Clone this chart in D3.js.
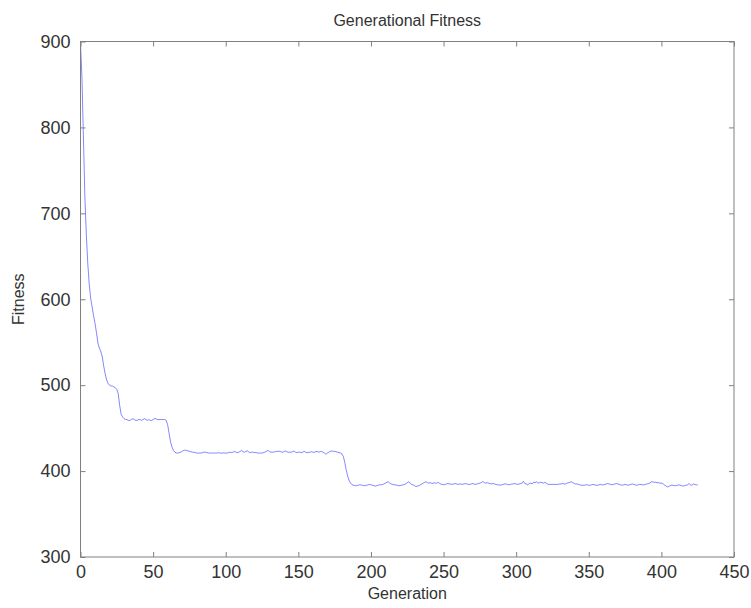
<!DOCTYPE html>
<html lang="en">
<head>
<title>Generational Fitness</title>
<meta charset="utf-8">

<script src="https://d3js.org/d3.v7.min.js"></script>

<style type="text/css">

body {
	margin: 0;
	background: #fff;
	font-family: "Liberation Sans", Arial, sans-serif;
}

.axis text {
	fill: #333;
}

</style>

</head>

<body>

<div id="vis"></div>

<script>

/* Data */
/* ==== */

// fitness per generation, generation = index
var fitnessStart = [898, 858, 790, 720, 676, 642, 618, 601, 591, 581, 572, 561, 549, 543, 539, 533,
	522, 513, 506, 502, 500, 499, 499, 498, 497, 495, 490, 476, 466, 463, 461, 460];

var fitnessPlateau1 = [460, 459, 459, 460, 461, 460, 459, 459, 460, 460, 459, 460, 461, 460,
	459, 460, 459, 459, 460, 461, 461, 460, 460, 460, 460, 460, 460, 459,
	454, 444, 434, 428, 424, 422];

var fitnessPlateau2 = [421, 421, 421.5, 422, 423, 424, 424.5,
	424, 423.5, 423, 422.5, 422, 422, 421.5, 421,
	421, 421, 421, 421.5, 422, 422, 421.5, 421, 421, 421, 421, 421, 421, 421, 421.5, 421, 421, 421, 421, 421,
	421, 421.5, 422, 421.5, 422, 423, 422, 421.5, 422, 423, 424, 422.5, 422, 423, 423.5, 422, 421.5, 422, 422, 421.5,
	421.5, 421, 421, 421, 421, 421.5, 422, 423, 424, 423, 422, 422, 422, 422.5, 423, 423, 423, 422.5, 422, 422.5,
	423.5, 422.5, 422, 422, 422, 422.5, 423.5, 422, 421.5, 422, 422, 421.5, 422, 423, 422, 421.5, 421.5, 422, 422.5, 422,
	422, 422.5, 423, 422, 422.5, 423, 422, 421, 419.5, 421, 422, 423, 423.5, 423, 423, 422.5, 422, 421.5, 421, 420,
	417, 410, 401, 394, 389, 386];

var fitnessPlateau3 = [384, 383.5, 383, 383, 383.5, 384, 384, 383.5, 383, 383, 383.5, 384, 384.5, 384, 383.5, 383, 382.5, 383, 383.5, 384,
	384, 384.5, 385, 386, 387, 387.5, 386, 385, 384.5, 384, 384, 383.5, 383, 383, 383.5, 384, 384.5, 385, 386.5, 387.5,
	386, 384.5, 384, 383, 382, 382.5, 383, 384, 385, 386, 387, 387.5, 386.5, 386, 386.5, 385.5, 386, 386.5, 385.5, 387,
	386, 385, 384.5, 384, 384.5, 385, 385.5, 385, 385, 384.5, 385, 385.5, 385, 384.5, 385, 385, 384.5, 385, 385.5, 385,
	384.5, 384.5, 385, 385.5, 385, 384.5, 385, 385.5, 386, 386.5, 388, 386.5, 386, 386.5, 386, 385.5, 385, 385.5, 385, 384.5,
	384, 384, 383.5, 384, 384.5, 385, 385, 384.5, 384, 384.5, 385, 385, 385.5, 385, 384.5, 385, 385.5, 386, 388, 385.5,
	385, 384, 385.5, 386, 385, 387, 386.5, 387.5, 386, 386.5, 387, 386.5, 386, 387, 385.5, 384.5, 384.5, 384.5, 384.5, 384.5,
	384.5, 384.5, 384.5, 385, 385, 385.5, 385, 385, 386, 386.5, 387, 387.5, 386.5, 385.5, 385, 385, 384.5, 384, 383.5, 383.5,
	383.5, 384, 384, 383.5, 383.5, 384, 384.5, 384, 383.5, 383.5, 384, 384.5, 384, 384, 384.5, 385, 385.5, 385, 384.5, 384,
	384.5, 385, 385.5, 385, 384.5, 384, 383.5, 384, 384.5, 384, 383.5, 384, 384.5, 385, 384.5, 384, 383.5, 384, 384.5, 384.5,
	384, 384, 384.5, 385, 385.5, 386, 387.5, 387.5, 387, 387, 386.5, 386.5, 386, 386, 385.5, 384, 383, 381.5, 382, 383,
	383.5, 383.5, 383, 383, 383.5, 384, 383.5, 383, 382.5, 383, 383.5, 384, 385.5, 384, 383.5, 385, 384.5, 384, 384];

var xTicks = [0, 50, 100, 150, 200, 250, 300, 350, 400, 450];
var yTicks = [300, 400, 500, 600, 700, 800, 900];

var fitness = fitnessStart.concat(fitnessPlateau1, fitnessPlateau2, fitnessPlateau3);


/* Globals and SVG */
/* =============== */

var margin = { top: 41.5, right: 17, bottom: 51, left: 80.5 },
		width = 751 - margin.left - margin.right,
		height = 608 - margin.top - margin.bottom;

var axisColor = '#808080',
		textColor = '#333';

var svg = d3.select('#vis')
	.append('svg')
		.attr('width', 751)
		.attr('height', 608)
	.append('g')
		.attr('transform', 'translate(' + margin.left + ', ' + margin.top + ')');

var x = d3.scaleLinear().domain([0, 450]).range([0, width]);
var y = d3.scaleLinear().domain([300, 900]).range([height, 0]);


/* Functions */
/* ========= */

function styleAxis(g, showText) {
	g.select('.domain').remove();
	g.selectAll('.tick line').attr('stroke', axisColor);
	g.selectAll('.tick text')
		.style('font-size', '18px')
		.attr('fill', textColor);
	if (!showText) g.selectAll('.tick text').remove();
} // styleAxis()

function drawAxes() {

	// ticks point inwards on all four sides
	svg.append('g').attr('class', 'axis')
		.attr('transform', 'translate(0,' + height + ')')
		.call(d3.axisBottom(x).tickValues(xTicks).tickSizeInner(-5).tickSizeOuter(0).tickPadding(8))
		.call(styleAxis, true);

	svg.append('g').attr('class', 'axis')
		.call(d3.axisTop(x).tickValues(xTicks).tickSizeInner(-5).tickSizeOuter(0))
		.call(styleAxis, false);

	svg.append('g').attr('class', 'axis')
		.call(d3.axisLeft(y).tickValues(yTicks).tickSizeInner(-5).tickSizeOuter(0).tickPadding(10))
		.call(styleAxis, true);

	svg.append('g').attr('class', 'axis')
		.attr('transform', 'translate(' + width + ',0)')
		.call(d3.axisRight(y).tickValues(yTicks).tickSizeInner(-5).tickSizeOuter(0))
		.call(styleAxis, false);

	svg.append('rect')
		.attr('width', width)
		.attr('height', height)
		.attr('fill', 'none')
		.attr('stroke', axisColor)
		.attr('stroke-width', 1);

} // drawAxes()

function drawLine(data) {

	var line = d3.line()
		.x(function(d, i) { return x(i); })
		.y(function(d) { return y(d); });

	svg.append('path')
		.datum(data)
		.attr('d', line)
		.attr('fill', 'none')
		.attr('stroke', '#0000ff')
		.attr('stroke-opacity', 0.6)
		.attr('stroke-width', 0.8);

} // drawLine()

function drawLabels() {

	svg.append('text')
		.attr('x', width / 2)
		.attr('y', -16)
		.attr('text-anchor', 'middle')
		.style('font-size', '16px')
		.attr('fill', textColor)
		.text('Generational Fitness');

	svg.append('text')
		.attr('x', width / 2)
		.attr('y', height + 42)
		.attr('text-anchor', 'middle')
		.style('font-size', '16px')
		.attr('fill', textColor)
		.text('Generation');

	svg.append('text')
		.attr('transform', 'translate(' + (-57) + ',' + (height / 2) + ') rotate(-90)')
		.attr('text-anchor', 'middle')
		.style('font-size', '16px')
		.attr('fill', textColor)
		.text('Fitness');

} // drawLabels()


/* Build */
/* ===== */

drawLine(fitness);
drawAxes();
drawLabels();

</script>

</body>
</html>
